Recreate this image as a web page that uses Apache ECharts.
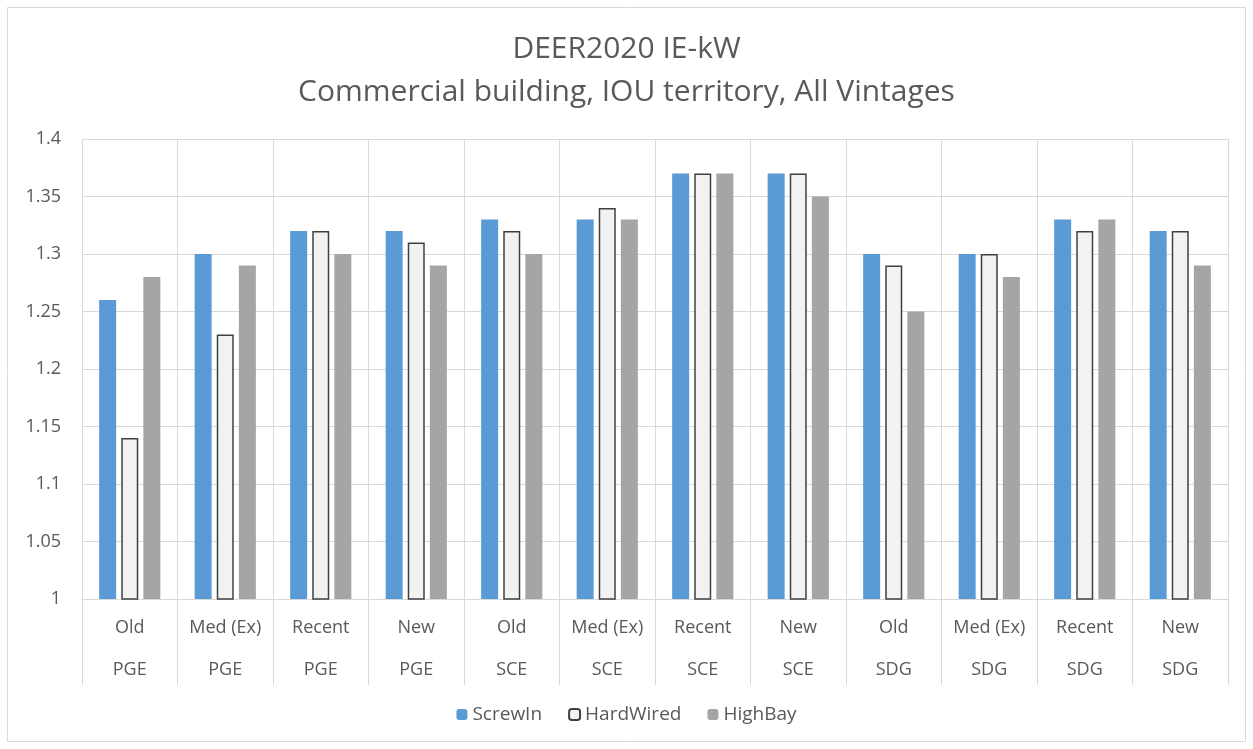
<!DOCTYPE html>
<html>
<head>
<meta charset="utf-8">
<script src="https://cdn.jsdelivr.net/npm/echarts@6/dist/echarts.min.js"></script>
<style>
    html, body { margin: 0; padding: 0; background: #fff; }
    #main { width: 1253px; height: 749px; }
</style>
</head>
<body>
<div id="main"></div>
<script>
var vintages = ['Old', 'Med (Ex)', 'Recent', 'New', 'Old', 'Med (Ex)', 'Recent', 'New', 'Old', 'Med (Ex)', 'Recent', 'New'];
var utilities = ['PGE', 'PGE', 'PGE', 'PGE', 'SCE', 'SCE', 'SCE', 'SCE', 'SDG', 'SDG', 'SDG', 'SDG'];
var screwIn = [1.26, 1.30, 1.32, 1.32, 1.33, 1.33, 1.37, 1.37, 1.30, 1.30, 1.33, 1.32];
var hardWired = [1.14, 1.23, 1.32, 1.31, 1.32, 1.34, 1.37, 1.37, 1.29, 1.30, 1.32, 1.32];
var highBay = [1.28, 1.29, 1.30, 1.29, 1.30, 1.33, 1.37, 1.35, 1.25, 1.28, 1.33, 1.29];

var categories = [];
for (var i = 0; i < vintages.length; i++) {
    categories.push(vintages[i] + '\n' + utilities[i]);
}

var myChart = echarts.init(document.getElementById('main'));
var font = '"Open Sans", Lato, sans-serif';

var option = {
    backgroundColor: '#fff',
    textStyle: { fontFamily: font },
    title: {
        text: 'DEER2020 IE-kW\nCommercial building, IOU territory, All Vintages',
        left: 'center',
        top: 23,
        textStyle: {
            fontFamily: font,
            fontSize: 30,
            fontWeight: 'normal',
            color: '#595959',
            lineHeight: 43
        }
    },
    legend: {
        bottom: 20,
        left: 'center',
        itemWidth: 11,
        itemHeight: 11,
        itemGap: 26,
        textStyle: { fontFamily: font, fontSize: 19, color: '#595959' },
        data: ['ScrewIn', 'HardWired', 'HighBay']
    },
    grid: { left: 82, right: 25, top: 139, bottom: 150 },
    xAxis: {
        type: 'category',
        data: categories,
        axisLine: { lineStyle: { color: '#d9d9d9' } },
        axisTick: { show: true, alignWithLabel: false, interval: 0, length: 86, lineStyle: { color: '#d9d9d9' } },
        splitLine: { show: true, interval: 0, lineStyle: { color: '#d9d9d9' } },
        axisLabel: {
            interval: 0,
            margin: 8,
            fontFamily: font,
            fontSize: 18,
            color: '#595959',
            lineHeight: 42
        }
    },
    yAxis: {
        type: 'value',
        min: 1,
        max: 1.4,
        interval: 0.05,
        axisLine: { show: false },
        axisTick: { show: false },
        splitLine: { lineStyle: { color: '#d9d9d9' } },
        axisLabel: {
            margin: 21,
            fontFamily: font,
            fontSize: 18,
            color: '#595959'
        }
    },
    series: [{
        name: 'ScrewIn',
        type: 'bar',
        barWidth: 17,
        barGap: '30%',
        itemStyle: { color: '#5b9bd5' },
        data: screwIn
    }, {
        name: 'HardWired',
        type: 'bar',
        barWidth: 17,
        barGap: '30%',
        itemStyle: { color: '#f2f2f2', borderColor: '#404040', borderWidth: 1.5 },
        data: hardWired
    }, {
        name: 'HighBay',
        type: 'bar',
        barWidth: 17,
        barGap: '30%',
        itemStyle: { color: '#a5a5a5' },
        data: highBay
    }],
    graphic: [{
        type: 'rect',
        shape: { x: 7.5, y: 7.5, width: 1238, height: 734 },
        style: { fill: 'none', stroke: '#d9d9d9', lineWidth: 1 },
        silent: true
    }]
};

myChart.setOption(option);
</script>
</body>
</html>
